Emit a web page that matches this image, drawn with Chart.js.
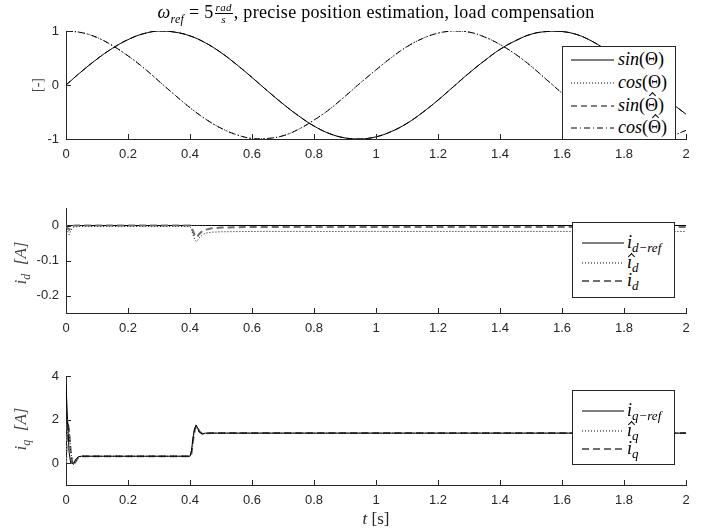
<!DOCTYPE html>
<html>
<head>
<meta charset="utf-8">
<script src="https://cdn.jsdelivr.net/npm/chart.js@4.4.1/dist/chart.umd.min.js"></script>
<style>
  body { margin: 0; background: #fff; }
  #wrap { position: relative; width: 704px; height: 531px; overflow: hidden; color: #262626; font-family: "Liberation Serif", serif; }
  canvas { position: absolute; left: 0; }
  .title { position: absolute; left: 66px; width: 620px; top: 0px; text-align: center; font-size: 18px; letter-spacing: 0.3px; line-height: 24px; color: #000; white-space: nowrap; }
  .title sub { font-size: 12px; }
  .frac { display: inline-block; vertical-align: middle; text-align: center; font-size: 11px; line-height: 11px; font-style: italic; margin: 0 1px; }
  .frac span { display: block; padding: 0 1px; }
  .frac span:first-child { border-bottom: 1px solid #000; }
  .legend { position: absolute; border: 1px solid #262626; background: #fff; box-sizing: border-box; }
  .legend .row { position: absolute; left: 0; right: 0; height: 22px; }
  .legend svg { position: absolute; top: 10px; }
  .legend .lab { position: absolute; top: 0; font-size: 18px; line-height: 22px; color: #000; white-space: nowrap; }
  .legend sub { font-size: 13px; font-style: italic; vertical-align: -4px; }
  /* small chevron used as a hat accent */
  .hat { position: relative; display: inline-block; }
  .hat::after { content: ""; position: absolute; left: 50%; width: 4px; height: 4px; margin-left: -2px;
                border-left: 1px solid #000; border-top: 1px solid #000; transform: rotate(45deg); }
  .hat.big::after { top: -1px; }
  .hat.small::after { top: 3px; margin-left: -1px; }
  .ylab { position: absolute; white-space: nowrap; font-size: 17px; color: #444; transform: translate(-50%, -50%) rotate(-90deg); }
  .ylab sub { font-size: 12px; vertical-align: -4px; }
  .xlab { position: absolute; left: 376px; top: 509px; transform: translateX(-50%); font-size: 17px; color: #262626; white-space: nowrap; }
</style>
</head>
<body>
<div id="wrap">
  <canvas id="c1" width="704" height="170" style="top:0px"></canvas>
  <canvas id="c2" width="704" height="170" style="top:180px"></canvas>
  <canvas id="c3" width="704" height="171" style="top:360px"></canvas>

  <div class="title"><i>ω</i><sub><i>ref</i></sub> = 5<span class="frac"><span>rad</span><span>s</span></span>, precise position estimation, load compensation</div>

  <div class="ylab" style="left:38px; top:85px; font-size:14px;">[-]</div>
  <div class="ylab" style="left:22px; top:263px;"><i>i</i><sub><i>d</i></sub> &nbsp;<i>[A]</i></div>
  <div class="ylab" style="left:22px; top:429px;"><i>i</i><sub><i>q</i></sub> &nbsp;<i>[A]</i></div>
  <div class="xlab"><i>t</i> [s]</div>

  <div id="leg1" class="legend" style="left:562px; top:46px; width:114px; height:94px;"></div>
  <div id="leg2" class="legend" style="left:572px; top:222px; width:103px; height:76px;"></div>
  <div id="leg3" class="legend" style="left:572px; top:390px; width:103px; height:75px;"></div>
</div>

<script>
/////////////////////////////////////////////data//////////////////////////////////////////////

const xTicks = [0, 0.2, 0.4, 0.6, 0.8, 1, 1.2, 1.4, 1.6, 1.8, 2];
const y1Ticks = [-1, 0, 1];
const y2Ticks = [-0.2, -0.1, 0];
const y3Ticks = [0, 2, 4];

// top plot: rotor angle signals, read every 0.05 s
const timeAngle = [0, 0.05, 0.1, 0.15, 0.2, 0.25, 0.3, 0.35, 0.4, 0.45, 0.5, 0.55, 0.6, 0.65, 0.7, 0.75, 0.8, 0.85, 0.9, 0.95,
    1.0, 1.05, 1.1, 1.15, 1.2, 1.25, 1.3, 1.35, 1.4, 1.45, 1.5, 1.55, 1.6, 1.65, 1.7, 1.75, 1.8, 1.85, 1.9, 1.95, 2.0];
const sinTheta = [0, 0.25, 0.48, 0.68, 0.84, 0.95, 1.0, 0.98, 0.91, 0.78, 0.6, 0.38, 0.14, -0.11, -0.35, -0.57, -0.76, -0.9, -0.98, -1.0,
    -0.96, -0.86, -0.71, -0.51, -0.28, -0.03, 0.22, 0.45, 0.66, 0.82, 0.94, 0.99, 0.99, 0.93, 0.8, 0.62, 0.41, 0.17, -0.08, -0.32, -0.54];
const cosTheta = [1.0, 0.97, 0.88, 0.73, 0.54, 0.32, 0.07, -0.18, -0.42, -0.63, -0.8, -0.92, -0.99, -0.99, -0.94, -0.82, -0.65, -0.45, -0.21, 0.04,
    0.28, 0.51, 0.71, 0.86, 0.96, 1.0, 0.98, 0.89, 0.75, 0.57, 0.35, 0.1, -0.15, -0.38, -0.6, -0.78, -0.91, -0.99, -1.0, -0.95, -0.84];
// the estimates lie on top of the true curves at this scale
const sinThetaEst = sinTheta.slice();
const cosThetaEst = cosTheta.slice();

// current plots share one time base, denser around the transients
const timeCur = [0, 0.005, 0.01, 0.015, 0.02, 0.025, 0.03, 0.04, 0.05, 0.1, 0.2, 0.3, 0.4, 0.405, 0.41, 0.415, 0.42, 0.425, 0.43,
    0.44, 0.45, 0.47, 0.5, 0.6, 0.8, 1.0, 1.2, 1.4, 1.6, 1.8, 2.0];
const idRef = [0, 0, 0, 0, 0, 0, 0, 0, 0, 0, 0, 0, 0, 0, 0, 0, 0, 0, 0,
    0, 0, 0, 0, 0, 0, 0, 0, 0, 0, 0, 0];
const idEst = [0, -0.015, -0.026, -0.016, -0.008, -0.005, -0.004, -0.003, -0.003, -0.003, -0.003, -0.003, -0.003, -0.012, -0.028, -0.04, -0.046, -0.042, -0.035,
    -0.027, -0.022, -0.019, -0.018, -0.017, -0.017, -0.017, -0.017, -0.017, -0.017, -0.017, -0.017];
const idMeas = [0, -0.008, -0.012, -0.006, -0.002, -0.001, 0, 0, 0, 0, 0, 0, 0, -0.006, -0.016, -0.028, -0.034, -0.03, -0.024,
    -0.016, -0.012, -0.008, -0.006, -0.004, -0.004, -0.004, -0.004, -0.004, -0.004, -0.004, -0.004];
const iqRef = [3.6, 2.0, 0.5, 0.02, 0, 0, 0.15, 0.3, 0.32, 0.32, 0.32, 0.32, 0.32, 0.6, 1.2, 1.6, 1.75, 1.6, 1.42,
    1.35, 1.38, 1.38, 1.38, 1.38, 1.38, 1.38, 1.38, 1.38, 1.38, 1.38, 1.38];
const iqEst = [0, 1.9, 1.5, 0.6, 0.05, -0.08, 0.05, 0.27, 0.32, 0.32, 0.32, 0.32, 0.32, 0.5, 1.1, 1.55, 1.72, 1.62, 1.45,
    1.34, 1.37, 1.38, 1.38, 1.38, 1.38, 1.38, 1.38, 1.38, 1.38, 1.38, 1.38];
const iqMeas = [0, 1.9, 1.5, 0.6, 0.05, -0.1, 0.05, 0.28, 0.32, 0.32, 0.32, 0.32, 0.32, 0.45, 1.05, 1.5, 1.7, 1.63, 1.47,
    1.34, 1.37, 1.38, 1.38, 1.38, 1.38, 1.38, 1.38, 1.38, 1.38, 1.38, 1.38];

/////////////////////////////////////////////data//////////////////////////////////////////////


// line styles used in plots and legends
const SOLID = { color: "#000", width: 1, dash: [] };
const DOTTED = { color: "#000", width: 1, dash: [1, 2] };
const DASHED = { color: "#000", width: 1, dash: [6, 4] };
const DASHED_GRAY = { color: "#6e6e6e", width: 2, dash: [7, 4] };
const DASHDOT = { color: "#000", width: 1, dash: [6, 3, 1, 3] };

function series(times, values, style, tension) {
    return {
        data: times.map((t, i) => ({ x: t, y: values[i] })),
        borderColor: style.color,
        borderWidth: style.width,
        borderDash: style.dash,
        pointRadius: 0,
        tension: tension || 0,
        fill: false
    };
}

// MATLAB style ticks pointing into the axes
const inwardTicks = {
    id: "inwardTicks",
    afterDraw(chart) {
        const { ctx, chartArea, scales } = chart;
        ctx.save();
        ctx.strokeStyle = "#262626";
        ctx.lineWidth = 1;
        ctx.beginPath();
        scales.x.ticks.forEach(t => {
            const px = Math.round(scales.x.getPixelForValue(t.value)) + 0.5;
            ctx.moveTo(px, chartArea.bottom);
            ctx.lineTo(px, chartArea.bottom - 5);
        });
        scales.y.ticks.forEach(t => {
            const py = Math.round(scales.y.getPixelForValue(t.value)) + 0.5;
            ctx.moveTo(chartArea.left, py);
            ctx.lineTo(chartArea.left + 5, py);
        });
        ctx.stroke();
        ctx.restore();
    }
};

const tickFont = { family: "Liberation Sans", size: 13 };

function makeChart(id, datasets, yMin, yMax, yTicks, padTop, xAxisHeight) {
    return new Chart(document.getElementById(id), {
        type: "line",
        data: { datasets: datasets },
        options: {
            responsive: false,
            animation: false,
            events: [],
            layout: { padding: { top: padTop, right: 18, left: 0, bottom: 0 } },
            plugins: { legend: { display: false }, tooltip: { enabled: false } },
            scales: {
                x: {
                    type: "linear", min: 0, max: 2,
                    afterBuildTicks: s => { s.ticks = xTicks.map(v => ({ value: v })); },
                    afterFit: s => { s.height = xAxisHeight; },
                    grid: { drawOnChartArea: false, drawTicks: false },
                    border: { color: "#262626", width: 1 },
                    ticks: { padding: 8, color: "#262626", font: tickFont, maxRotation: 0, autoSkip: false, callback: v => String(v) }
                },
                y: {
                    min: yMin, max: yMax,
                    afterBuildTicks: s => { s.ticks = yTicks.map(v => ({ value: v })); },
                    afterFit: s => { s.width = 66; },
                    grid: { drawOnChartArea: false, drawTicks: false },
                    border: { color: "#262626", width: 1 },
                    ticks: { padding: 7, color: "#262626", font: tickFont, callback: v => String(v) }
                }
            }
        },
        plugins: [inwardTicks]
    });
}

makeChart("c1", [
    series(timeAngle, sinTheta, SOLID, 0.4),
    series(timeAngle, cosTheta, DOTTED, 0.4),
    series(timeAngle, sinThetaEst, DASHED, 0.4),
    series(timeAngle, cosThetaEst, DASHDOT, 0.4)
], -1, 1, y1Ticks, 31, 31);

makeChart("c2", [
    series(timeCur, idMeas, DASHED_GRAY),
    series(timeCur, idRef, SOLID),
    series(timeCur, idEst, DOTTED)
], -0.25, 0.05, y2Ticks, 28, 37);

makeChart("c3", [
    series(timeCur, iqRef, SOLID),
    series(timeCur, iqEst, DOTTED),
    series(timeCur, iqMeas, DASHED_GRAY)
], -1, 4, y3Ticks, 16, 46);


/////////////////////////////////////////////legends//////////////////////////////////////////////

function sample(style, x1, x2) {
    const dash = style.dash.length ? ` stroke-dasharray="${style.dash.join(" ")}"` : "";
    return `<svg width="${x2}" height="4" style="left:0"><line x1="${x1}" y1="2" x2="${x2}" y2="2" stroke="${style.color}" stroke-width="${style.width}"${dash}/></svg>`;
}

function buildLegend(id, items, rowTops, x1, x2, textX) {
    const box = document.getElementById(id);
    items.forEach((item, i) => {
        const row = document.createElement("div");
        row.className = "row";
        row.style.top = rowTops[i] + "px";
        row.innerHTML = sample(item.style, x1, x2) + `<span class="lab" style="left:${textX}px">${item.label}</span>`;
        box.appendChild(row);
    });
}

buildLegend("leg1", [
    { style: SOLID, label: "<i>sin</i>(Θ)" },
    { style: DOTTED, label: "<i>cos</i>(Θ)" },
    { style: DASHED, label: "<i>sin</i>(<span class=\"hat big\">Θ</span>)" },
    { style: DASHDOT, label: "<i>cos</i>(<span class=\"hat big\">Θ</span>)" }
], [1, 24, 47, 69], 8, 51, 55);

buildLegend("leg2", [
    { style: SOLID, label: "<i>i</i><sub>d−ref</sub>" },
    { style: DOTTED, label: "<span class=\"hat small\"><i>ı</i></span><sub>d</sub>" },
    { style: DASHED_GRAY, label: "<i>i</i><sub>d</sub>" }
], [8, 28, 46], 9, 51, 54);

buildLegend("leg3", [
    { style: SOLID, label: "<i>i</i><sub>q−ref</sub>" },
    { style: DOTTED, label: "<span class=\"hat small\"><i>ı</i></span><sub>q</sub>" },
    { style: DASHED_GRAY, label: "<i>i</i><sub>q</sub>" }
], [8, 28, 46], 9, 51, 54);
</script>
</body>
</html>
